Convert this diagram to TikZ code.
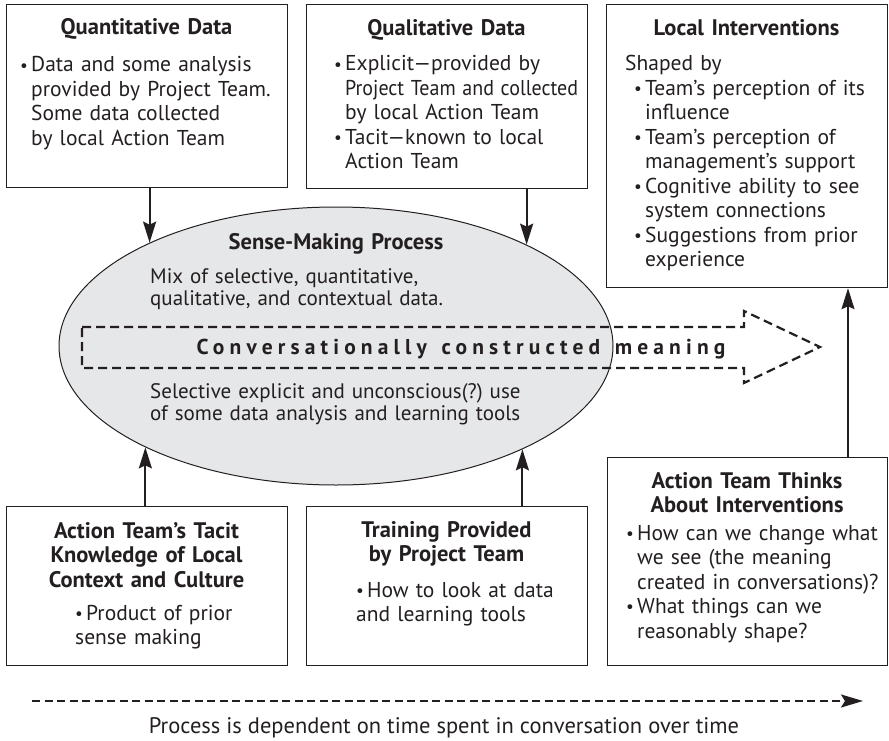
\documentclass[tikz,border=0pt]{standalone}
\usepackage{fontspec}
\usepackage{graphicx}
\setmainfont{PT Sans}
\newfontfamily\spacedfont[LetterSpace=24]{PT Sans}
\usetikzlibrary{arrows.meta,shapes.geometric}
\definecolor{ink}{HTML}{231F20}
\definecolor{ellfill}{HTML}{E6E7E8}
\newcommand\mybul{\makebox[11pt][l]{\raisebox{0.8pt}{\scalebox{0.8}{\textbullet}}}}
\newcommand\myhang{\hspace*{11pt}}
\frenchspacing
\begin{document}
\begin{tikzpicture}[x=1pt,y=-1pt,
  box/.style={draw=ink, line width=1.2pt, inner sep=0pt, anchor=north west},
  ttl/.style={font=\bfseries\fontsize{22.5}{24.5}\selectfont, align=center, text width=275pt, inner sep=0pt, anchor=base, text=ink},
  txt/.style={font=\fontsize{21.5}{24.5}\selectfont, align=left, text width=275pt, inner sep=0pt, anchor=base west, text=ink},
  etxt/.style={font=\fontsize{21}{22}\selectfont, align=left, text width=420pt, inner sep=0pt, anchor=base west, text=ink},
  arr/.style={-{Stealth[length=21pt,width=13pt,inset=3pt]}, line width=2pt, draw=ink},
  dasharr/.style={-{Stealth[length=22pt,width=13pt,inset=4pt]}, line width=2.3pt, draw=ink, dash pattern=on 8pt off 4.5pt},
]
\useasboundingbox (0,0) rectangle (889,741);

% ellipse
\node[ellipse, draw=ink, fill=ellfill, line width=1pt, minimum width=554pt, minimum height=278pt, inner sep=0pt] (ell) at (336,346) {};

% big dashed arrow
\draw[ink, line width=2.2pt, dash pattern=on 9pt off 5pt, line join=miter]
  (82,327) -- (744,327) -- (744,311) -- (820,347) -- (744,383) -- (744,368) -- (82,368) -- cycle;
\node[font=\spacedfont\bfseries\fontsize{21.5}{22}\selectfont, text=ink, inner sep=0pt, anchor=base] (conv) at (461,354) {Conversationally\hspace{4pt} constructed\hspace{4pt} meaning};

% ellipse text
\node[ttl] (elt) at (336,249) {Sense-Making Process};
\node[etxt] (el1) at (150,283) {Mix of selective, quantitative,\\qualitative, and contextual data.};
\node[etxt] (el2) at (150,398) {Selective explicit and unconscious(?) use\\of some data analysis and learning tools};

% boxes
\node[box, minimum width=281pt, minimum height=183pt] (qd) at (6,4) {};
\node[box, minimum width=281pt, minimum height=184pt] (ql) at (306,4) {};
\node[box, minimum width=281pt, minimum height=283pt] (li) at (606,4) {};
\node[box, minimum width=281pt, minimum height=159pt] (tk) at (6,506) {};
\node[box, minimum width=281pt, minimum height=159pt] (tr) at (306,506) {};
\node[box, minimum width=280pt, minimum height=208pt] (at) at (607,457) {};

% box texts
\node[ttl] (qdt) at (146.5,35) {Quantitative Data};
\node[txt] (qdx) at (20,72) {\mybul Data and some analysis\\\myhang provided by Project Team.\\\myhang Some data collected\\\myhang by local Action Team};

\node[ttl] (qlt) at (446.5,36) {Qualitative Data};
\node[txt] (qlx) at (334,71) {\mybul Explicit\textemdash provided by\\\myhang\scalebox{0.93}[1]{Project Team and collected}\\\myhang by local Action Team\\\mybul Tacit\textemdash known to local\\\myhang Action Team};

\node[ttl] (lit) at (746.5,36) {Local Interventions};
\node[txt] (lix) at (625,71) {Shaped by\\\hspace*{9pt}\mybul Team’s perception of its\\\hspace*{20pt}influence\\\hspace*{9pt}\mybul Team’s perception of\\\hspace*{20pt}management’s support\\\hspace*{9pt}\mybul Cognitive ability to see\\\hspace*{20pt}system connections\\\hspace*{9pt}\mybul Suggestions from prior\\\hspace*{20pt}experience};

\node[ttl] (tkt) at (146.5,538) {Action Team’s Tacit\\Knowledge of Local\\Context and Culture};
\node[txt] (tkx) at (75,620) {\mybul Product of prior\\sense making};

\node[ttl] (trt) at (446.5,537) {Training Provided\\by Project Team};
\node[txt] (trx) at (356,597) {\mybul How to look at data\\and learning tools};

\node[ttl] (att) at (747,488) {Action Team Thinks\\About Interventions};
\node[txt] (atx) at (626,540) {\mybul How can we change what\\\myhang we see (the meaning\\\myhang created in conversations)?\\\mybul What things can we\\\myhang reasonably shape?};

% connectors
\draw[arr] (ell.151.6 |- qd.south) -- (ell.151.6);
\draw[arr] (ell.28.4 |- ql.south) -- (ell.28.4);
\draw[arr] (ell.208.4 |- tk.north) -- (ell.208.4);
\draw[arr] (ell.331.6 |- tr.north) -- (ell.331.6);
\coordinate (ax) at (848,0);
\draw[arr] (at.north -| ax) -- (li.south -| ax);

% time arrow
\coordinate (ds) at (32,701);
\coordinate (de) at (863,701);
\draw[dasharr] (ds) -- (de);
\node[font=\fontsize{22.5}{24}\selectfont, text=ink, inner sep=0pt, anchor=base] (cap) at (444,733) {Process is dependent on time spent in conversation over time};
\end{tikzpicture}
\end{document}
